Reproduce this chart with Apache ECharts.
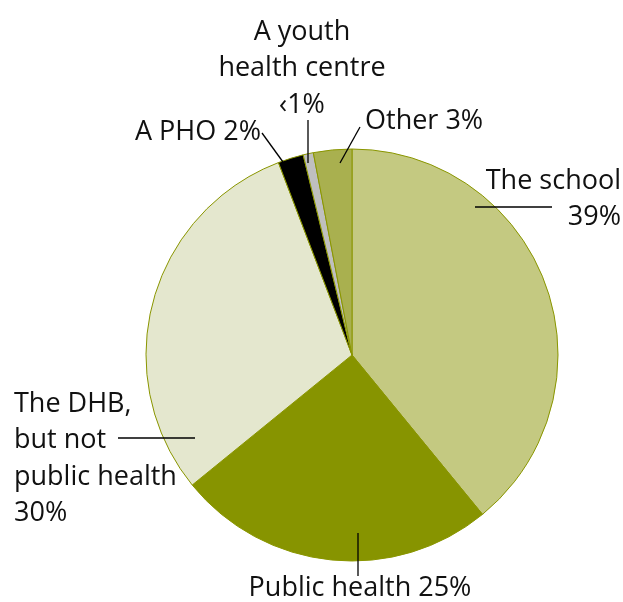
<!DOCTYPE html>
<html>
<head>
<meta charset="utf-8">
<script src="https://cdn.jsdelivr.net/npm/echarts@6/dist/echarts.min.js"></script>
<style>
  html, body { margin: 0; padding: 0; background: #ffffff; }
  #chart { width: 623px; height: 602px; }
</style>
</head>
<body>
<div id="chart"></div>
<script>
// Who provides the service (share of responses)
const categories = ['The school', 'Public health', 'The DHB, but not public health', 'A PHO', 'A youth health centre', 'Other'];
const shares = [39, 25, 30, 2, 0.8, 3];
const labelTexts = ['The school\n39%', 'Public health 25%', 'The DHB,\nbut not\npublic health\n30%', 'A PHO 2%', 'A youth\nhealth centre\n\u20391%', 'Other 3%'];
const sliceColors = ['#c4c981', '#879400', '#e4e7ce', '#000000', '#bfbfbf', '#a9b04f'];

const CX = 352, CY = 355, R = 206;

// Label block placement and leader-line geometry, relative to the pie centre
const labelPlacement = [
  { x: 269, y: -192, align: 'right',  line: [[123, -148], [200, -148]] },
  { x: 8,   y: 215,  align: 'center', line: [[6, 178], [6, 221]] },
  { x: -338, y: 31,  align: 'left',   line: [[-234, 83], [-157, 83]] },
  { x: -217, y: -241, align: 'left',  line: [[-69, -193], [-90, -222]] },
  { x: -50, y: -341, align: 'center', line: [[-44, -192], [-44, -235]] },
  { x: 13,  y: -252, align: 'left',   line: [[-12, -192], [8, -228]] }
];

const chart = echarts.init(document.getElementById('chart'), null, { renderer: 'canvas' });

const pieData = (withColor) => categories.map((name, i) => ({
  name: name,
  value: shares[i],
  itemStyle: withColor ? { color: sliceColors[i] } : { color: 'rgba(0,0,0,0)' },
  label: { align: labelPlacement[i].align }
}));

chart.setOption({
  backgroundColor: '#ffffff',
  animation: false,
  series: [
    {
      // filled slices
      type: 'pie',
      z: 2,
      center: [CX, CY],
      radius: [0, R],
      startAngle: 90,
      clockwise: true,
      silent: true,
      itemStyle: { borderColor: '#8a9600', borderWidth: 1 },
      label: { show: false },
      labelLine: { show: false },
      data: pieData(true)
    },
    {
      // labels and leader lines, drawn above the slices
      type: 'pie',
      z: 3,
      center: [CX, CY],
      radius: [0, R],
      startAngle: 90,
      clockwise: true,
      silent: true,
      avoidLabelOverlap: false,
      itemStyle: { borderWidth: 0 },
      label: {
        show: true,
        position: 'outside',
        color: '#111111',
        fontFamily: 'Open Sans',
        fontSize: 27,
        lineHeight: 36.5,
        formatter: p => labelTexts[p.dataIndex]
      },
      labelLine: {
        show: true,
        lineStyle: { color: '#000000', width: 1.3 }
      },
      labelLayout: p => {
        const s = labelPlacement[p.dataIndex];
        return {
          x: CX + s.x,
          y: CY + s.y,
          align: s.align,
          verticalAlign: 'top',
          labelLinePoints: s.line.map(pt => [CX + pt[0], CY + pt[1]])
        };
      },
      data: pieData(false)
    }
  ]
});
</script>
</body>
</html>
